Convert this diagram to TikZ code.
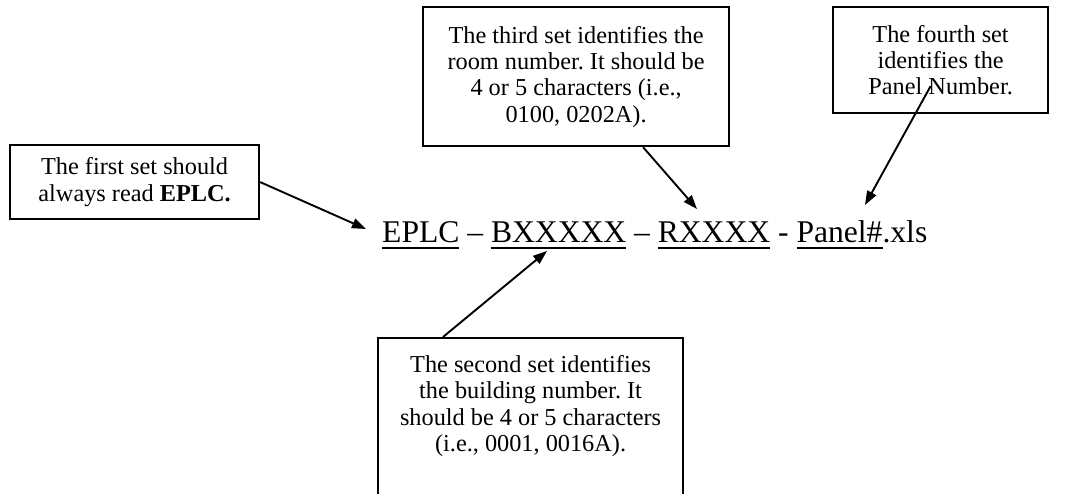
\documentclass[tikz,border=0pt]{standalone}
\usepackage{fontspec}
\setmainfont{Liberation Serif}
\usetikzlibrary{arrows.meta}
\newcommand{\calloutfont}{\fontsize{24.3}{26.3}\selectfont}
\newcommand{\filenamefont}{\fontsize{31.6}{36}\selectfont}
\newcommand{\fieldul}[1]{\setbox0\hbox{#1}\rlap{\rule[-7pt]{\wd0}{1.8pt}}\box0\relax}
\frenchspacing

\begin{document}
\begin{tikzpicture}[x=1pt, y=-1pt,
    callout/.style={draw, line width=2.2pt, align=center, font=\calloutfont, inner sep=2pt, anchor=north west},
    pointer/.style={-{Triangle[length=14pt,width=10pt]}, line width=1.9pt}]
        \useasboundingbox (0,0) rectangle (1069,493);

        % File name pattern
        \node[anchor=base west, inner sep=0pt, font=\filenamefont] (pattern) at (382,242)
            {\fieldul{EPLC} -- \fieldul{BXXXXX} -- \fieldul{RXXXX} - \fieldul{Panel\#}.xls};

        % Callout boxes
        \node[callout, minimum width=249pt, minimum height=74pt] (first) at (9,144)
            {The first set should\\always read \textbf{EPLC.}};
        \node[callout, minimum width=306pt, minimum height=139pt] (third) at (422,6)
            {The third set identifies the\\room number. It should be\\4 or 5 characters (i.e.,\\0100, 0202A).};
        \node[callout, minimum width=215pt, minimum height=106pt] (fourth) at (832,6)
            {The fourth set\\identifies the\\Panel Number.};
        \node[callout, minimum width=305pt, minimum height=175pt] (second) at (377,337) {};
        \node[font=\calloutfont, align=center, anchor=north] (secondtext) at ([yshift=-15pt]second.north)
            {The second set identifies\\the building number. It\\should be 4 or 5 characters\\(i.e., 0001, 0016A).};

        % Arrow tips
        \coordinate (firsttip) at (366,229);
        \coordinate (secondtip) at (547,251);
        \coordinate (thirdtip) at (697,209);
        \coordinate (fourthtip) at (865,205);

        % Connection arrows
        \draw[pointer] (first.east) -- (firsttip);
        \draw[pointer] ([xshift=66pt]second.north west) -- (secondtip);
        \draw[pointer] ([xshift=67pt]third.south) -- (thirdtip);
        \draw[pointer] ([xshift=-10pt,yshift=-26pt]fourth.center) -- (fourthtip);
    \end{tikzpicture}
\end{document}
